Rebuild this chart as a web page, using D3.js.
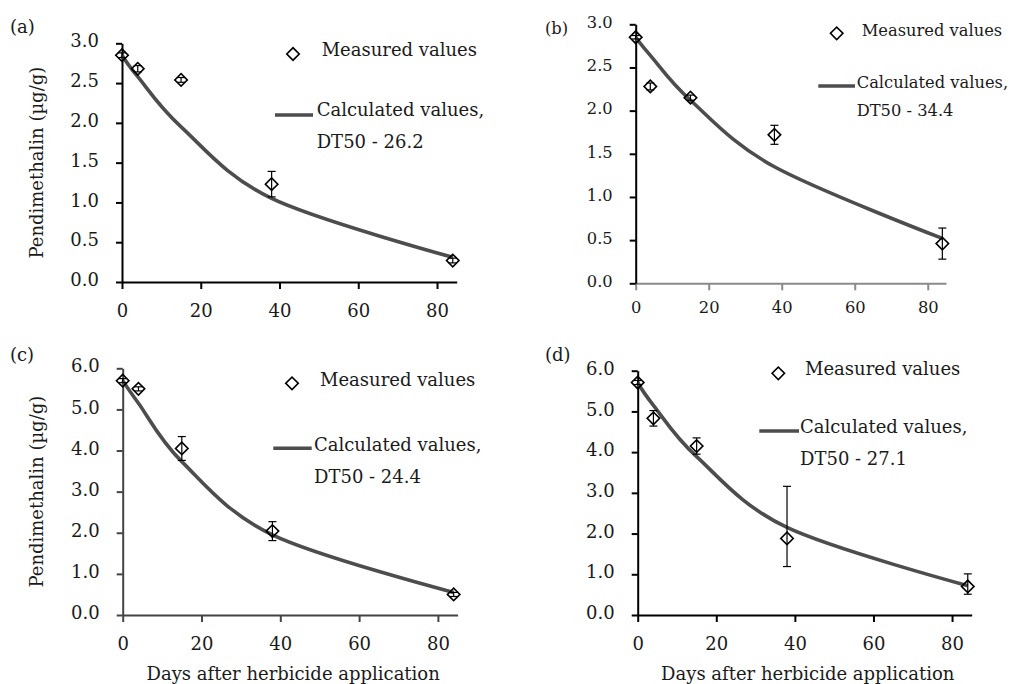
<!DOCTYPE html>
<html>
<head>
<meta charset="utf-8">
<script src="https://cdn.jsdelivr.net/npm/d3@7"></script>
<style>
  body { margin: 0; background: #fff; }
  svg text { font-family: "DejaVu Serif", serif; fill: #1a1a1a; }
</style>
</head>
<body>
<div id="chart"></div>
<script>

// sampling days (x values) shared by every panel
const days = [0, 4, 15, 38, 84]
const xTicks = [0, 20, 40, 60, 80]
const yTicksSmall = [0, 0.5, 1, 1.5, 2, 2.5, 3]
const yTicksLarge = [0, 1, 2, 3, 4, 5, 6]
const panelNames = ["(a)", "(b)", "(c)", "(d)"]
const dt50Labels = ["DT50 - 26.2", "DT50 - 34.4", "DT50 - 24.4", "DT50 - 27.1"]

// (a)
const measuredA = [2.85, 2.68, 2.54, 1.23, 0.27]
const errorA = [0.03, 0.04, 0.03, 0.16, 0.03]
const calculatedA = [2.85, 2.58, 1.95, 1.05, 0.31]
// (b)
const measuredB = [2.85, 2.28, 2.15, 1.72, 0.46]
const errorB = [0.02, 0.04, 0.03, 0.11, 0.18]
const calculatedB = [2.85, 2.64, 2.12, 1.35, 0.52]
// (c)
const measuredC = [5.70, 5.50, 4.05, 2.04, 0.50]
const errorC = [0.05, 0.05, 0.29, 0.23, 0.05]
const calculatedC = [5.70, 5.15, 3.73, 1.95, 0.55]
// (d) - error bars are not symmetric here
const measuredD = [5.71, 4.83, 4.15, 1.88, 0.70]
const errorUpD = [0.05, 0.19, 0.20, 1.28, 0.31]
const errorDownD = [0.05, 0.19, 0.20, 0.69, 0.19]
const calculatedD = [5.71, 5.15, 3.89, 2.15, 0.72]

const width = 1010
const height = 684

const svg = d3.select("#chart")
    .append("svg")
    .attr("width", width)
    .attr("height", height)

// layout of each panel (pixels) + which data it uses
const panels = [
    { name: panelNames[0], dt50: dt50Labels[0], measured: measuredA, up: errorA, down: errorA, calc: calculatedA,
      yMax: 3, yTicks: yTicksSmall, left: 122, right: 456.7, top: 43.3, bottom: 282, fs: 18,
      xColor: "#000", yColor: "#000", yTitle: true, xTitle: false,
      labelX: 10, labelY: 27, tickPadX: 15,
      leg: { dx: 293, dy: 54, t1x: 321.7, t1y: 50, lx0: 275, lx1: 313, ly: 115, t2x: 316.7, t2y: 110, t3y: 141.7 } },
    { name: panelNames[1], dt50: dt50Labels[1], measured: measuredB, up: errorB, down: errorB, calc: calculatedB,
      yMax: 3, yTicks: yTicksSmall, left: 635.7, right: 946, top: 24.3, bottom: 283.3, fs: 16.3,
      xColor: "#8a8a8a", yColor: "#000", yTitle: false, xTitle: false,
      labelX: 545, labelY: 28, tickPadX: 11,
      leg: { dx: 836.7, dy: 33.3, t1x: 861.7, t1y: 30.7, lx0: 818.3, lx1: 855, ly: 86, t2x: 856.7, t2y: 82.7, t3y: 110 } },
    { name: panelNames[2], dt50: dt50Labels[2], measured: measuredC, up: errorC, down: errorC, calc: calculatedC,
      yMax: 6, yTicks: yTicksLarge, left: 122.7, right: 457.6, top: 368.3, bottom: 615, fs: 18,
      xColor: "#444", yColor: "#444", yTitle: true, xTitle: true,
      labelX: 10, labelY: 355, tickPadX: 15,
      leg: { dx: 292, dy: 383.3, t1x: 320, t1y: 380, lx0: 273.3, lx1: 311.7, ly: 448.3, t2x: 314, t2y: 445, t3y: 476.7 } },
    { name: panelNames[3], dt50: dt50Labels[3], measured: measuredD, up: errorUpD, down: errorDownD, calc: calculatedD,
      yMax: 6, yTicks: yTicksLarge, left: 637.7, right: 971.7, top: 370.7, bottom: 615, fs: 18,
      xColor: "#000", yColor: "#000", yTitle: false, xTitle: true,
      labelX: 545, labelY: 355, tickPadX: 15,
      leg: { dx: 778.3, dy: 373.3, t1x: 805, t1y: 368.3, lx0: 759.3, lx1: 799, ly: 431, t2x: 800, t2y: 426.7, t3y: 458.3 } }
]

const diamond = d3.symbol().type(d3.symbolSquare).size(78)
const curveColor = "#4d4d4d"

panels.forEach(p => {
    const x = d3.scaleLinear().domain([0, 85]).range([p.left, p.right])
    const y = d3.scaleLinear().domain([0, p.yMax]).range([p.bottom, p.top])
    const g = svg.append("g")

    // axes first so the series sit on top
    const xAxis = g.append("g")
        .attr("transform", `translate(0,${p.bottom})`)
        .call(d3.axisBottom(x).tickValues(xTicks).tickSize(7).tickSizeOuter(0).tickPadding(p.tickPadX))
    xAxis.selectAll("path, line").attr("stroke", p.xColor).attr("stroke-width", 2)
    xAxis.selectAll("text").style("font-size", p.fs + "px")

    const yAxis = g.append("g")
        .attr("transform", `translate(${p.left},0)`)
        .call(d3.axisLeft(y).tickValues(p.yTicks).tickFormat(d3.format(".1f")).tickSize(6).tickSizeOuter(0).tickPadding(17))
    yAxis.selectAll("path, line").attr("stroke", p.yColor).attr("stroke-width", 2)
    yAxis.selectAll("text").style("font-size", p.fs + "px").attr("dy", "0.2em")

    // calculated curve (smoothed like a spreadsheet line)
    const line = d3.line()
        .x(d => x(d[0]))
        .y(d => y(d[1]))
        .curve(d3.curveCardinal.tension(0))
    g.append("path")
        .datum(days.map((d, i) => [d, p.calc[i]]))
        .attr("d", line)
        .attr("fill", "none")
        .attr("stroke", curveColor)
        .attr("stroke-width", 3.6)

    // error bars
    const pts = days.map((d, i) => ({ day: d, v: p.measured[i], up: p.up[i], down: p.down[i] }))
    const bars = g.selectAll(".err")
        .data(pts)
        .enter()
        .append("g")
        .attr("class", "err")
        .attr("stroke", "#000")
        .attr("stroke-width", 1.2)
    bars.append("line")
        .attr("x1", d => x(d.day)).attr("x2", d => x(d.day))
        .attr("y1", d => y(d.v + d.up)).attr("y2", d => y(d.v - d.down))
    bars.append("line")
        .attr("x1", d => x(d.day) - 4).attr("x2", d => x(d.day) + 4)
        .attr("y1", d => y(d.v + d.up)).attr("y2", d => y(d.v + d.up))
    bars.append("line")
        .attr("x1", d => x(d.day) - 4).attr("x2", d => x(d.day) + 4)
        .attr("y1", d => y(d.v - d.down)).attr("y2", d => y(d.v - d.down))

    // measured markers
    g.selectAll(".pt")
        .data(pts)
        .enter()
        .append("path")
        .attr("class", "pt")
        .attr("d", diamond)
        .attr("transform", d => `translate(${x(d.day)},${y(d.v)}) rotate(45)`)
        .attr("fill", "none")
        .attr("stroke", "#000")
        .attr("stroke-width", 1.6)

    // legend
    const L = p.leg
    g.append("path")
        .attr("d", diamond)
        .attr("transform", `translate(${L.dx},${L.dy}) rotate(45)`)
        .attr("fill", "none")
        .attr("stroke", "#000")
        .attr("stroke-width", 1.6)
    g.append("text").attr("x", L.t1x).attr("y", L.t1y).attr("dy", "0.35em")
        .style("font-size", p.fs + "px").text("Measured values")
    g.append("line")
        .attr("x1", L.lx0).attr("x2", L.lx1).attr("y1", L.ly).attr("y2", L.ly)
        .attr("stroke", curveColor).attr("stroke-width", 3.6)
    g.append("text").attr("x", L.t2x).attr("y", L.t2y).attr("dy", "0.35em")
        .style("font-size", p.fs + "px").text("Calculated values,")
    g.append("text").attr("x", L.t2x).attr("y", L.t3y).attr("dy", "0.35em")
        .style("font-size", p.fs + "px").text(p.dt50)

    // panel letter
    g.append("text").attr("x", p.labelX).attr("y", p.labelY).attr("dy", "0.35em")
        .style("font-size", p.fs + "px").text(p.name)

    if (p.yTitle) {
        g.append("text")
            .attr("transform", `translate(37,${(p.top + p.bottom) / 2}) rotate(-90)`)
            .attr("text-anchor", "middle")
            .attr("dy", "0.35em")
            .style("font-size", "18px")
            .text("Pendimethalin (µg/g)")
    }
    if (p.xTitle) {
        g.append("text")
            .attr("x", (p.left + p.right) / 2 + 3)
            .attr("y", 673.3)
            .attr("text-anchor", "middle")
            .attr("dy", "0.35em")
            .style("font-size", "18px")
            .text("Days after herbicide application")
    }
})
</script>
</body>
</html>
